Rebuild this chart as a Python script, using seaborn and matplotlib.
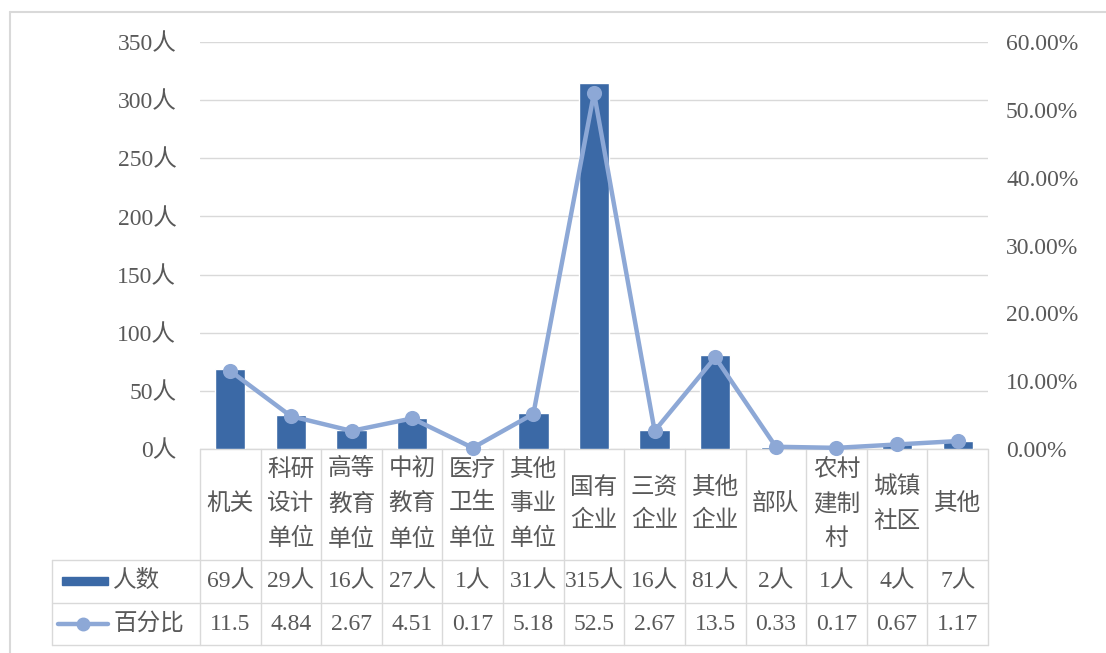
import numpy as np
import pandas as pd
import matplotlib
matplotlib.use("Agg")
import matplotlib.pyplot as plt
import seaborn as sns
from matplotlib.transforms import blended_transform_factory
from matplotlib.lines import Line2D
from matplotlib.patches import Rectangle

# data
categories = ['机关', '科研设计单位', '高等教育单位', '中初教育单位', '医疗卫生单位',
              '其他事业单位', '国有企业', '三资企业', '其他企业', '部队',
              '农村建制村', '城镇社区', '其他']
header_labels = ['机关', '科研\n设计\n单位', '高等\n教育\n单位', '中初\n教育\n单位',
                 '医疗\n卫生\n单位', '其他\n事业\n单位', '国有\n企业', '三资\n企业',
                 '其他\n企业', '部队', '农村\n建制\n村', '城镇\n社区', '其他']
counts = [69, 29, 16, 27, 1, 31, 315, 16, 81, 2, 1, 4, 7]
percents = [11.5, 4.84, 2.67, 4.51, 0.17, 5.18, 52.5, 2.67, 13.5, 0.33, 0.17, 0.67, 1.17]
left_ticks = [0, 50, 100, 150, 200, 250, 300, 350]
right_ticks = [0, 10, 20, 30, 40, 50, 60]

bar_color = '#3B69A6'
line_color = '#8DA8D6'
grid_color = '#D9D9D9'
text_color = '#595959'
fs = 17

sns.set_theme(style='white')
plt.rcParams['font.family'] = ['Liberation Serif', 'Noto Sans CJK SC']

W, H = 1106, 653
fig = plt.figure(figsize=(W / 100, H / 100), dpi=100)
ax = fig.add_axes([200 / W, 1 - 449 / H, 788 / W, 407 / H])

df = pd.DataFrame({'cat': categories, 'count': counts, 'pct': percents})
sns.barplot(data=df, x='cat', y='count', ax=ax, color=bar_color, width=0.5,
            saturation=1, zorder=2)
ax.set_ylim(0, 350)
ax.set_yticks(left_ticks)
ax.set_yticklabels([f'{v}人' for v in left_ticks])
ax.yaxis.grid(True, color=grid_color, lw=1)
ax.set_axisbelow(True)
ax.tick_params(axis='y', length=0, pad=17, labelsize=fs, labelcolor=text_color)
ax.set_xlabel('')
ax.set_ylabel('')
for s in ax.spines.values():
    s.set_visible(False)

ax2 = ax.twinx()
sns.pointplot(data=df, x='cat', y='pct', ax=ax2, color=line_color,
              markersize=8.5, linewidth=3.2, errorbar=None)
for ln in ax2.lines:
    ln.set_clip_on(False)
for c in ax2.collections:
    c.set_clip_on(False)
ax2.set_ylim(0, 60)
ax2.set_yticks(right_ticks)
ax2.set_yticklabels([f'{v:.2f}%' for v in right_ticks])
ax2.tick_params(axis='y', length=0, pad=13, labelsize=fs, labelcolor=text_color)
ax2.set_xlabel('')
ax2.set_ylabel('')
ax2.grid(False)
for s in ax2.spines.values():
    s.set_visible(False)

n = len(categories)
ax.set_xlim(-0.5, n - 0.5)
ax2.set_xlim(-0.5, n - 0.5)
ax.set_xticks([])
ax2.set_xticks([])

# data table under the plot
trans = blended_transform_factory(ax.transData, ax.transAxes)
col_w = (788 / n)
x_left = -0.5 - (200 - 52) / col_w
y1 = -(560 - 449) / 407
y2 = -(603 - 449) / 407
y3 = -(645 - 449) / 407

def tline(xs, ys):
    ax.plot(xs, ys, transform=trans, clip_on=False, color=grid_color, lw=1, zorder=1)

tline([-0.5, n - 0.5], [0, 0])
for yy in (y1, y2, y3):
    tline([x_left, n - 0.5], [yy, yy])
for i in range(n + 1):
    tline([i - 0.5, i - 0.5], [0, y3])
tline([x_left, x_left], [y1, y3])

tkw = dict(transform=trans, ha='center', va='center', color=text_color,
           fontsize=fs, clip_on=False)
for i in range(n):
    ax.text(i, y1 / 2, header_labels[i], linespacing=1.75, **tkw)
    ax.text(i, (y1 + y2) / 2, f'{counts[i]}人', **tkw)
    ax.text(i, (y2 + y3) / 2, f'{percents[i]:g}', **tkw)

# legend keys in the left cells
fig.patches.append(Rectangle((62 / W, 1 - 585 / H), 46 / W, 8 / H,
                             transform=fig.transFigure, color=bar_color))
fig.text(113 / W, 1 - 581 / H, '人数', ha='left', va='center',
         color=text_color, fontsize=fs)
fig.lines.append(Line2D([58 / W, 108 / W], [1 - 624 / H, 1 - 624 / H],
                        transform=fig.transFigure, color=line_color, lw=3.2,
                        zorder=3))
fig.lines.append(Line2D([83 / W], [1 - 624 / H], transform=fig.transFigure,
                        color=line_color, marker='o', markersize=9, lw=0))
fig.text(113 / W, 1 - 624 / H, '百分比', ha='left', va='center',
         color=text_color, fontsize=fs)

# outer chart frame
fig.lines.append(Line2D([10 / W, 10 / W], [0, 1 - 12 / H],
                        transform=fig.transFigure, color=grid_color, lw=1.5))
fig.lines.append(Line2D([10 / W, 1], [1 - 12 / H, 1 - 12 / H],
                        transform=fig.transFigure, color=grid_color, lw=1.5))

fig.savefig('out.png', dpi=100)
